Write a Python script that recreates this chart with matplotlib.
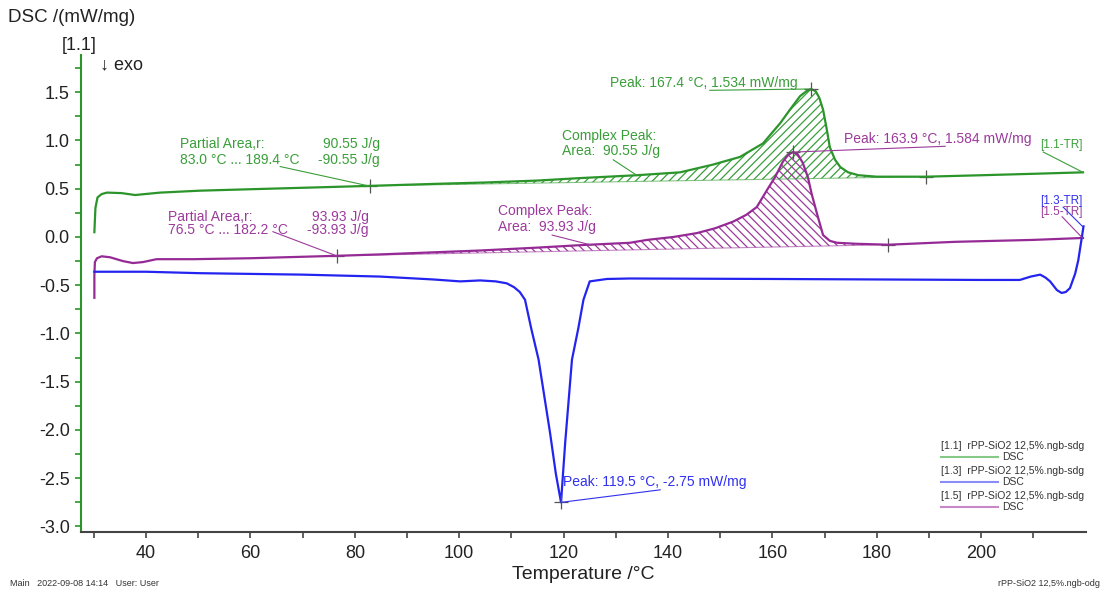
import numpy as np
import matplotlib.pyplot as plt

plt.rcParams['font.family'] = ['Liberation Sans', 'DejaVu Sans']
plt.rcParams['hatch.linewidth'] = 0.9

# curve [1.1] green (T in degC, DSC in mW/mg)
green_T = [30.1, 30.3, 30.7, 31.5, 32.5, 35.3, 37.9, 42.7, 50.3, 60, 70, 83.0, 95, 105, 115,
           123, 134, 142.3, 148.6, 153.8, 158.2, 161.5, 163.5, 165.3, 166.5, 167.4, 168.3,
           169.0, 169.7, 170.4, 171.0, 172.0, 173.0, 174.5, 176.5, 180, 189.4, 200, 210, 219.5]
green_y = [0.05, 0.30, 0.41, 0.445, 0.46, 0.455, 0.435, 0.46, 0.48, 0.495, 0.51, 0.53, 0.55, 0.565, 0.585,
           0.61, 0.64, 0.67, 0.75, 0.83, 0.97, 1.18, 1.33, 1.46, 1.51, 1.534, 1.51,
           1.44, 1.32, 1.12, 0.93, 0.80, 0.725, 0.67, 0.64, 0.625, 0.625, 0.64, 0.655, 0.67]

# curve [1.3] blue
blue_T = [30.1, 40, 50.3, 70, 84.8, 95, 100.2, 104, 107, 109.1, 110.5, 111.6, 112.6, 113.8, 115.2,
          117.4, 118.5, 119.5, 120.3, 121.6, 122.8, 123.8, 125.0, 128.3, 132.7, 160, 180, 199.8,
          207.4, 209.5, 211.3, 212.3, 213.2, 214.5, 215.4, 216.2, 217, 218.0, 218.6, 219.6]
blue_y = [-0.36, -0.36, -0.375, -0.39, -0.41, -0.44, -0.46, -0.45, -0.46, -0.48, -0.52, -0.57, -0.65, -0.95, -1.27,
          -2.03, -2.45, -2.75, -2.13, -1.27, -0.95, -0.65, -0.46, -0.435, -0.43, -0.435, -0.44, -0.445,
          -0.445, -0.41, -0.39, -0.42, -0.46, -0.55, -0.58, -0.57, -0.53, -0.38, -0.24, 0.11]

# curve [1.5] purple
purple_T = [30.1, 30.1, 30.2, 30.6, 31.5, 33.1, 35.6, 37.5, 39.4, 42.0, 49.0, 60, 76.5, 85, 104, 115,
            123, 132.7, 136, 141, 145.5, 149, 152.5, 155, 157, 159, 160.5, 162, 163.0, 163.9, 164.8,
            165.8, 166.8, 167.5, 168.5, 169.7, 171, 172.4, 176, 182.2, 195, 210, 219.5]
purple_y = [-0.63, -0.40, -0.26, -0.22, -0.20, -0.21, -0.25, -0.27, -0.26, -0.23, -0.23, -0.22, -0.195, -0.18, -0.14, -0.11,
            -0.085, -0.06, -0.03, 0.0, 0.04, 0.09, 0.16, 0.23, 0.31, 0.49, 0.62, 0.78, 0.85, 0.88, 0.86,
            0.77, 0.62, 0.45, 0.25, 0.02, -0.04, -0.06, -0.07, -0.08, -0.05, -0.03, -0.01]

green_area = (83.0, 189.4)
purple_area = (76.5, 182.2)
green_peak = (167.4, 1.534)
purple_peak = (163.9, 0.88)
blue_peak = (119.5, -2.75)

xticks = [40, 60, 80, 100, 120, 140, 160, 180, 200]
yticks = [1.5, 1.0, 0.5, 0.0, -0.5, -1.0, -1.5, -2.0, -2.5, -3.0]

GREEN = '#2b952b'
BLUE = '#2424f0'
PURPLE = '#952a95'
GREEN_T = '#3a9e3a'
PURPLE_T = '#9c3a9c'
BLUE_T = '#3030f0'

fig = plt.figure(figsize=(11.08, 5.94), dpi=100)
ax = fig.add_axes([80.8 / 1108, 62 / 594, 1004.8 / 1108, 477 / 594])

# hatched partial areas (curve between limits, closed along straight baseline)
def area(ax, T, y, lims, color, hatch):
    T = np.array(T)
    y = np.array(y)
    m = (T >= lims[0]) & (T <= lims[1])
    ax.fill(T[m], y[m], facecolor='none', edgecolor=color, hatch=hatch, lw=0)
    ax.plot([lims[0], lims[1]], [y[m][0], y[m][-1]], color=color, lw=0.8, alpha=0.6)
    ax.plot(lims, [y[m][0], y[m][-1]], ls='none', marker='+', ms=10, mew=0.9, color='#555555')

area(ax, green_T, green_y, green_area, '#3a9e3a', '////')
area(ax, purple_T, purple_y, purple_area, '#9c3a9c', '\\\\\\\\')

ax.plot(green_T, green_y, color=GREEN, lw=1.6)
ax.plot(purple_T, purple_y, color=PURPLE, lw=1.6)
ax.plot(blue_T, blue_y, color=BLUE, lw=1.6)

for p in [green_peak, purple_peak, blue_peak]:
    ax.plot(*p, marker='+', ms=10, mew=0.9, color='#555555')

fs = 10
# green annotations
ax.text(128.8, 1.60, 'Peak: 167.4 °C, 1.534 mW/mg', color=GREEN_T, fontsize=fs, va='center')
ax.plot([148.0, green_peak[0]], [1.52, green_peak[1]], color=GREEN_T, lw=0.8)
ax.text(46.5, 0.96, 'Partial Area,r:', color=GREEN_T, fontsize=fs, va='center')
ax.text(84.8, 0.96, '90.55 J/g', color=GREEN_T, fontsize=fs, va='center', ha='right')
ax.text(46.5, 0.80, '83.0 °C ... 189.4 °C', color=GREEN_T, fontsize=fs, va='center')
ax.text(84.8, 0.80, '-90.55 J/g', color=GREEN_T, fontsize=fs, va='center', ha='right')
ax.plot([65.7, 82.6], [0.73, 0.53], color=GREEN_T, lw=0.8)
ax.text(119.6, 1.047, 'Complex Peak:', color=GREEN_T, fontsize=fs, va='center')
ax.text(119.6, 0.894, 'Area:  90.55 J/g', color=GREEN_T, fontsize=fs, va='center')
ax.plot([129.5, 134.0], [0.80, 0.64], color=GREEN_T, lw=0.8)
ax.text(211.3, 0.953, '[1.1-TR]', color=GREEN_T, fontsize=8.5, va='center')
ax.plot([211.9, 219.5], [0.88, 0.67], color=GREEN_T, lw=0.8)

# purple annotations
ax.text(173.7, 1.02, 'Peak: 163.9 °C, 1.584 mW/mg', color=PURPLE_T, fontsize=fs, va='center')
ax.plot([purple_peak[0], 193.1], [purple_peak[1], 0.94], color=PURPLE_T, lw=0.8)
ax.text(44.3, 0.21, 'Partial Area,r:', color=PURPLE_T, fontsize=fs, va='center')
ax.text(82.6, 0.21, '93.93 J/g', color=PURPLE_T, fontsize=fs, va='center', ha='right')
ax.text(44.3, 0.07, '76.5 °C ... 182.2 °C', color=PURPLE_T, fontsize=fs, va='center')
ax.text(82.6, 0.07, '-93.93 J/g', color=PURPLE_T, fontsize=fs, va='center', ha='right')
ax.plot([64.3, 76.5], [0.055, -0.195], color=PURPLE_T, lw=0.8)
ax.text(107.5, 0.27, 'Complex Peak:', color=PURPLE_T, fontsize=fs, va='center')
ax.text(107.5, 0.107, 'Area:  93.93 J/g', color=PURPLE_T, fontsize=fs, va='center')
ax.plot([117.8, 125.4], [0.02, -0.085], color=PURPLE_T, lw=0.8)
ax.text(211.3, 0.259, '[1.5-TR]', color=PURPLE_T, fontsize=8.5, va='center')
ax.plot([215.5, 219.4], [0.21, -0.01], color=PURPLE_T, lw=0.8)

# blue annotations
ax.text(119.95, -2.535, 'Peak: 119.5 °C, -2.75 mW/mg', color=BLUE_T, fontsize=fs, va='center')
ax.plot([blue_peak[0], 138.5], [blue_peak[1], -2.62], color=BLUE_T, lw=0.8)
ax.text(211.3, 0.373, '[1.3-TR]', color=BLUE_T, fontsize=8.5, va='center')
ax.plot([215.7, 219.4], [0.31, 0.11], color=BLUE_T, lw=0.8)

ax.set_xlim(27.5, 220)
ax.set_ylim(-3.057, 1.886)
ax.set_xticks(xticks)
ax.set_xticks(np.arange(30, 220, 10), minor=True)
ax.set_yticks(yticks)
ax.set_yticks(np.arange(-3.0, 1.8, 0.25), minor=True)
ax.set_yticklabels([f'{v:.1f}' for v in yticks])
ax.tick_params(axis='both', labelsize=13, colors='#222222')
ax.tick_params(axis='y', which='both', color=GREEN, length=4, width=1.2, pad=4)
ax.tick_params(axis='x', which='both', color='#444444', length=4, width=1.2, pad=5)
for s in ['top', 'right']:
    ax.spines[s].set_visible(False)
ax.spines['left'].set_color(GREEN)
ax.spines['left'].set_linewidth(1.5)
ax.spines['bottom'].set_color('#444444')
ax.spines['bottom'].set_linewidth(1.5)
ax.set_xlabel('Temperature /°C', fontsize=14, color='#222222', labelpad=3)

fig.text(8 / 1108, 1 - 18 / 594, 'DSC /(mW/mg)', fontsize=13.5, va='center', color='#222222')
fig.text(62 / 1108, 1 - 46 / 594, '[1.1]', fontsize=13, va='center', color='#222222')
fig.text(100 / 1108, 1 - 65 / 594, '↓ exo', fontsize=13, va='center', color='#222222')

# legend
leg = [('[1.1]  rPP-SiO2 12,5%.ngb-sdg', '#86c886'),
       ('[1.3]  rPP-SiO2 12,5%.ngb-sdg', '#8c8cf8'),
       ('[1.5]  rPP-SiO2 12,5%.ngb-sdg', '#c888c8')]
for i, (lab, c) in enumerate(leg):
    yt = 446 + i * 25
    fig.text(941 / 1108, 1 - yt / 594, lab, fontsize=7.5, va='center', color='#333333')
    fig.add_artist(plt.Line2D([941 / 1108, 998 / 1108], [1 - (yt + 11) / 594] * 2, color=c, lw=1.5))
    fig.text(1002 / 1108, 1 - (yt + 11) / 594, 'DSC', fontsize=7.5, va='center', color='#333333')

fig.text(10 / 1108, 1 - 583 / 594, 'Main   2022-09-08 14:14   User: User', fontsize=6.5, va='center', color='#333333')
fig.text(1100 / 1108, 1 - 583 / 594, 'rPP-SiO2 12,5%.ngb-odg', fontsize=6.5, va='center', ha='right', color='#333333')

fig.savefig('out.png', dpi=100)
